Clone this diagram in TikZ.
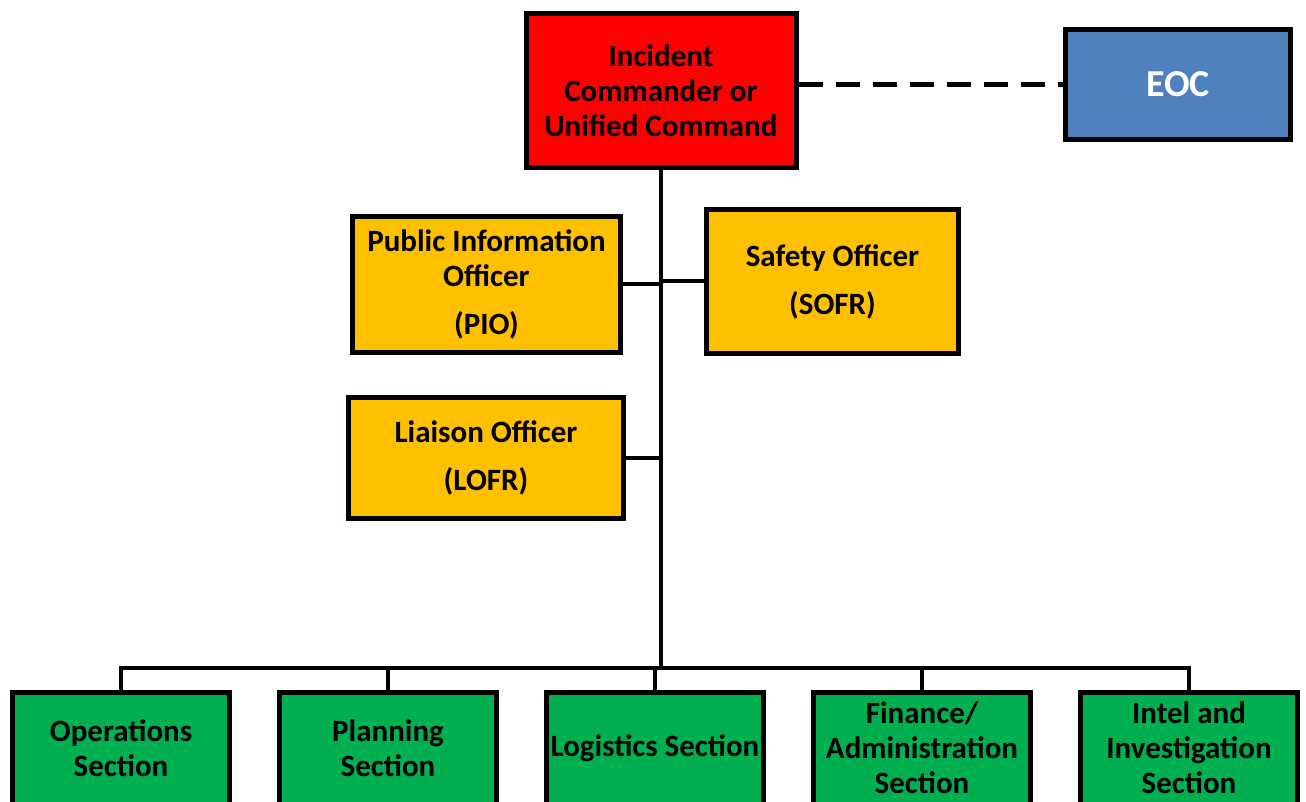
\documentclass[tikz,border=0pt]{standalone}
\usepackage{fontspec}
\setmainfont{Carlito}
\usepackage{xcolor}
\usepackage{tikz}
\usetikzlibrary{calc}

\definecolor{cmdred}{HTML}{FF0000}
\definecolor{eocblue}{HTML}{4F81BD}
\definecolor{staffgold}{HTML}{FFC000}
\definecolor{secgreen}{HTML}{00B050}

\begin{document}
\begin{tikzpicture}[x=0.5pt,y=-0.5pt,
  box/.style={draw=black,line width=2.5pt,align=center,inner sep=0pt,
    font=\fontsize{15.5}{17.5}\selectfont\bfseries},
  link/.style={line width=2pt}]
\useasboundingbox (0,0) rectangle (1306,802);

% Command
\node[box,fill=cmdred,minimum width=135pt,minimum height=77pt] (ic) at (661,91)
  {Incident\\Commander or\\Unified Command};

% EOC
\node[box,fill=eocblue,text=white,minimum width=112.5pt,minimum height=55pt,
  font=\fontsize{19}{21}\selectfont\bfseries] (eoc) at (1178,84.5) {EOC};
\draw[line width=2.5pt,dash pattern=on 12pt off 6.5pt] (eoc.west -| ic.east) -- (eoc.west);

% Command staff
\node[box,fill=staffgold,minimum width=134pt,minimum height=68pt] (pio) at (486.5,284.5)
  {Public Information\\Officer\\[6.5pt](PIO)};
\node[box,fill=staffgold,minimum width=126pt,minimum height=72pt] (sofr) at (832.5,281.5)
  {Safety Officer\\[6.5pt](SOFR)};
\node[box,fill=staffgold,minimum width=137.5pt,minimum height=60.5pt] (lofr) at (486,458)
  {Liaison Officer\\[6.5pt](LOFR)};

% Trunk
\coordinate (bus) at (661,668);
\draw[link] (ic.south) -- (bus);
\draw[link] (pio.east) -- (pio.east -| ic.south);
\draw[link] (sofr.west) -- (sofr.west -| ic.south);
\draw[link] (lofr.east) -- (lofr.east -| ic.south);

% General staff
\foreach \name/\txt [count=\i from 0] in
  {ops/{Operations\\Section},
   plan/{Planning\\Section},
   logi/{Logistics Section},
   fin/{Finance/\\Administration\\Section},
   intel/{Intel and\\Investigation\\Section}}
  \node[box,fill=secgreen,minimum width=108.5pt,minimum height=56pt] (\name) at (121+267*\i,748) {\txt};

\draw[link] (ops.north) -- (ops.north |- bus) -- (intel.north |- bus) -- (intel.north);
\foreach \name in {plan,logi,fin}
  \draw[link] (\name.north) -- (\name.north |- bus);
\end{tikzpicture}
\end{document}
